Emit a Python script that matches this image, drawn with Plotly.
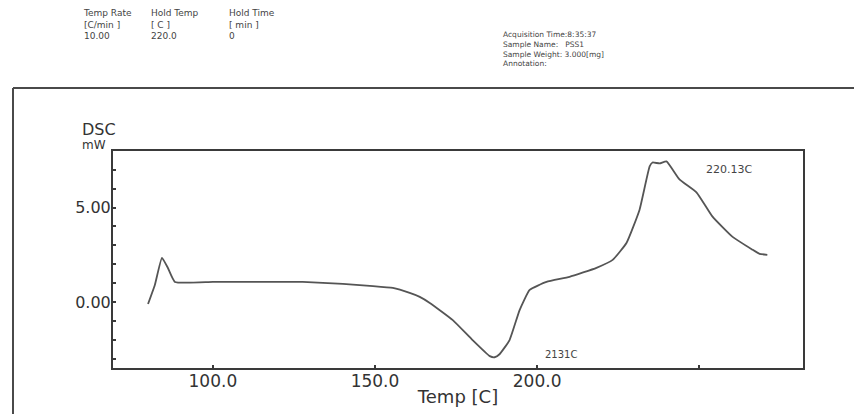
import plotly.graph_objects as go

# Data
temp_c = [80.0, 82.1, 84.3, 86.1, 88.3, 100.0, 111.4, 120.0, 127.7, 140.1, 148.4, 155.5,
          160.7, 163.8, 166.9, 174.0, 180.1, 185.4, 186.9, 188.4, 191.5, 194.6, 197.7,
          202.9, 210.0, 218.3, 223.3, 227.6, 231.6, 234.7, 235.6, 237.8, 239.9, 243.9,
          249.2, 254.1, 260.2, 266.4, 268.6, 271.0]
dsc_mw = [-0.11, 0.90, 2.34, 1.81, 1.06, 1.06, 1.06, 1.06, 1.06, 0.96, 0.85, 0.74,
          0.48, 0.27, -0.05, -0.96, -2.02, -2.87, -2.93, -2.77, -2.02, -0.43, 0.64,
          1.06, 1.33, 1.81, 2.23, 3.14, 4.89, 7.18, 7.39, 7.34, 7.45, 6.49,
          5.80, 4.52, 3.46, 2.77, 2.55, 2.50]

x_tick_vals = [100, 150, 200, 250]
x_tick_text = ["100.0", "150.0", "200.0", ""]
y_tick_vals = [0, 5]
y_tick_text = ["0.00", "5.00"]

header_cols = [("Temp Rate", "[C/min ]", "10.00"),
               ("Hold Temp", "[ C ]", "220.0"),
               ("Hold Time", "[ min ]", "0")]
info_lines = ["Acquisition Time:8:35:37", "Sample Name:   PSS1",
              "Sample Weight: 3.000[mg]", "Annotation:"]

W, H = 862, 414
OFF = 8  # page offset of the rendered figure
L, R, T, B = 113 - OFF, 803 - OFF, 151 - OFF, 368 - OFF


def px(p):
    return (p - OFF - L) / (R - L)


def py(p):
    return (B - (p - OFF)) / (B - T)


fig = go.Figure()
fig.add_trace(go.Scatter(x=temp_c, y=dsc_mw, mode="lines",
                         line=dict(color="#555555", width=1.8, shape="spline", smoothing=0.4),
                         hoverinfo="skip", showlegend=False))

FONT = "DejaVu Sans"
axis_common = dict(showline=True, linecolor="#3a3a3a", linewidth=2, mirror=True,
                   showgrid=False, zeroline=False, ticks="inside", ticklen=3,
                   tickcolor="#3a3a3a", tickwidth=1.5)

fig.update_layout(
    width=W, height=H,
    margin=dict(l=L, r=W - R, t=T, b=H - B),
    paper_bgcolor="white", plot_bgcolor="white",
    xaxis=dict(range=[69.2, 282.0], tickvals=x_tick_vals, ticktext=x_tick_text,
               tickfont=dict(family=FONT, size=17, color="#333333"),
               ticklabelstandoff=-3,
               title=dict(text="Temp [C]", font=dict(family=FONT, size=18, color="#333333"),
                          standoff=0),
               **axis_common),
    yaxis=dict(range=[-3.5, 8.0], tickvals=y_tick_vals, ticktext=y_tick_text,
               tickfont=dict(family=FONT, size=16, color="#333333"),
               ticklabelstandoff=-3,
               minor=dict(ticks="inside", ticklen=3, dtick=1, tickcolor="#3a3a3a", tickwidth=1.5),
               **axis_common),
)

ann = []
ann.append(dict(text="DSC", x=px(80), y=py(129), xref="paper", yref="paper",
                xanchor="left", yanchor="middle", showarrow=False,
                font=dict(family=FONT, size=16, color="#333333")))
ann.append(dict(text="mW", x=px(80), y=py(145), xref="paper", yref="paper",
                xanchor="left", yanchor="middle", showarrow=False,
                font=dict(family=FONT, size=12, color="#333333")))
ann.append(dict(text="220.13C", x=px(704), y=py(169), xref="paper", yref="paper",
                xanchor="left", yanchor="middle", showarrow=False,
                font=dict(family=FONT, size=11, color="#444444")))
ann.append(dict(text="2131C", x=px(543), y=py(354), xref="paper", yref="paper",
                xanchor="left", yanchor="middle", showarrow=False,
                font=dict(family=FONT, size=10, color="#444444")))
col_x = [82, 150, 228]
for cx, col in zip(col_x, header_cols):
    ann.append(dict(text="<br>".join(col), x=px(cx), y=py(7), xref="paper", yref="paper",
                    xanchor="left", yanchor="top", align="left", showarrow=False,
                    borderpad=0, font=dict(family=FONT, size=9, color="#444444")))
ann.append(dict(text="<br>".join(info_lines), x=px(502), y=py(29), xref="paper", yref="paper",
                xanchor="left", yanchor="top", align="left", showarrow=False,
                borderpad=0, font=dict(family=FONT, size=7.5, color="#444444")))
fig.update_layout(annotations=ann)

fig.add_shape(type="line", xref="paper", yref="paper", x0=px(13), x1=px(13),
              y0=py(88), y1=py(430), line=dict(color="#4a4a4a", width=2))
fig.add_shape(type="line", xref="paper", yref="paper", x0=px(13), x1=px(880),
              y0=py(88), y1=py(88), line=dict(color="#4a4a4a", width=2))

fig.write_html("out.html")
